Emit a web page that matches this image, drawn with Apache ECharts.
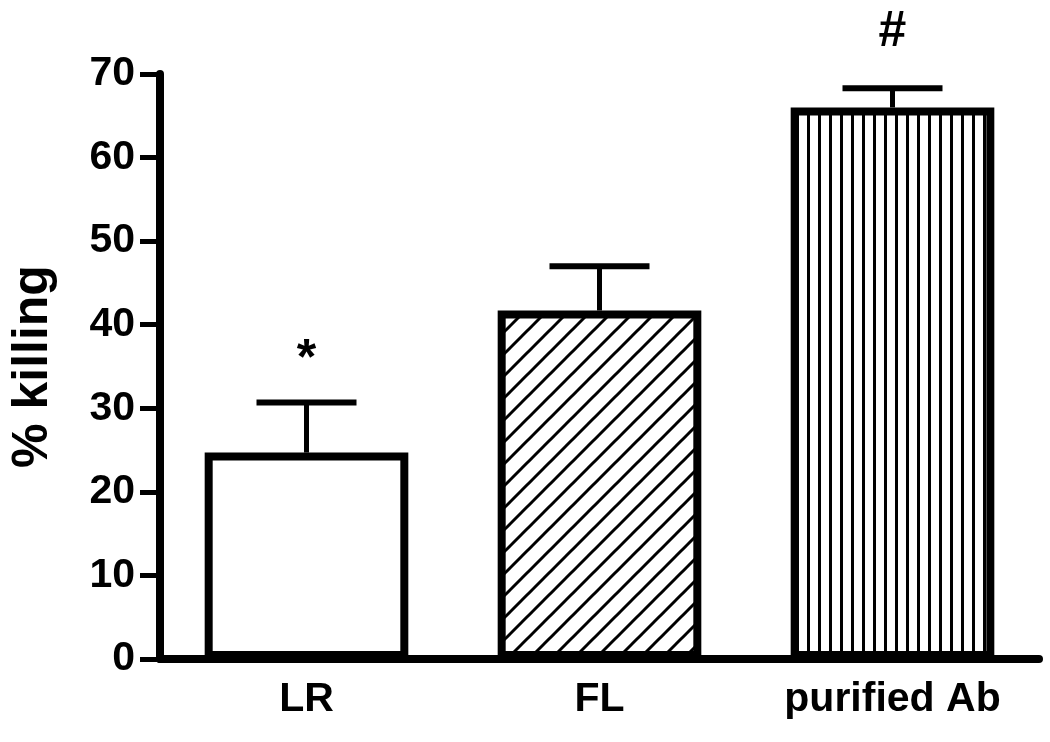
<!DOCTYPE html>
<html>
<head>
<meta charset="utf-8">
<script src="https://cdn.jsdelivr.net/npm/echarts@6/dist/echarts.min.js"></script>
<style>html,body{margin:0;padding:0;background:#fff;}#c{width:1050px;height:742px;}</style>
</head>
<body>
<div id="c"></div>
<script>
var categories = ['LR', 'FL', 'purified Ab'];
var means = [24.7, 41.7, 66.0];
var sem = [6.0, 5.3, 2.3];
var annotations = ['*', '', '#'];
var yTicks = [0, 10, 20, 30, 40, 50, 60, 70];

// glyph-specific vertical offsets (style only)
var annotationGap = { '*': 42, '#': 56 };

function makeVertical() {
  var c = document.createElement('canvas');
  c.width = 11; c.height = 4;
  var g = c.getContext('2d');
  g.fillStyle = '#fff'; g.fillRect(0, 0, 11, 4);
  g.fillStyle = '#000'; g.fillRect(4, 0, 3, 4);
  return c;
}
function makeDiagonal() {
  var s = 22;
  var c = document.createElement('canvas');
  c.width = s; c.height = s;
  var g = c.getContext('2d');
  g.fillStyle = '#fff'; g.fillRect(0, 0, s, s);
  g.strokeStyle = '#000'; g.lineWidth = 3;
  [0, s, 2 * s].forEach(function (k) {
    g.beginPath(); g.moveTo(-5, k + 5); g.lineTo(k + 5, -5); g.stroke();
  });
  return c;
}
var fills = ['#ffffff', { image: makeDiagonal(), repeat: 'repeat' }, { image: makeVertical(), repeat: 'repeat' }];

var barData = means.map(function (v, i) {
  return { value: v, itemStyle: { color: fills[i] } };
});
var errData = means.map(function (v, i) { return [i, v + sem[i], v, annotations[i]]; });

var font = 'Liberation Sans, Arial, sans-serif';
var chart = echarts.init(document.getElementById('c'), null, { renderer: 'canvas' });
chart.setOption({
  backgroundColor: '#fff',
  animation: false,
  grid: { left: 160, right: 11, top: 74, bottom: 83 },
  xAxis: {
    type: 'category',
    data: categories,
    axisLine: { lineStyle: { color: '#000', width: 8 } },
    axisTick: { alignWithLabel: true, length: 17, lineStyle: { color: '#000', width: 5 } },
    axisLabel: { color: '#000', fontFamily: font, fontWeight: 'bold', fontSize: 41, margin: 20 }
  },
  yAxis: {
    type: 'value',
    min: yTicks[0], max: yTicks[yTicks.length - 1], interval: 10,
    name: '% killing',
    nameLocation: 'middle',
    nameGap: 102,
    nameTextStyle: { color: '#000', fontFamily: font, fontWeight: 'bold', fontSize: 50 },
    axisLine: { show: true, lineStyle: { color: '#000', width: 8 } },
    axisTick: { show: true, length: 20, lineStyle: { color: '#000', width: 5 } },
    axisLabel: { color: '#000', fontFamily: font, fontWeight: 'bold', fontSize: 41, margin: 25 },
    splitLine: { show: false }
  },
  series: [
    {
      type: 'custom',
      data: errData,
      z: 1,
      renderItem: function (params, api) {
        var top = api.coord([api.value(0), api.value(1)]);
        var base = api.coord([api.value(0), api.value(2)]);
        var label = errData[params.dataIndex][3];
        var children = [
          { type: 'line', shape: { x1: top[0], y1: top[1], x2: base[0], y2: base[1] }, style: { stroke: '#000', lineWidth: 5 } },
          { type: 'line', shape: { x1: top[0] - 50, y1: top[1], x2: top[0] + 50, y2: top[1] }, style: { stroke: '#000', lineWidth: 6 } }
        ];
        if (label) {
          children.push({ type: 'text', style: { text: label, x: top[0], y: top[1] - annotationGap[label], align: 'center', verticalAlign: 'middle', font: 'bold 50px ' + font, fill: '#000' } });
        }
        return { type: 'group', children: children };
      }
    },
    {
      type: 'bar',
      data: barData,
      barWidth: '69.5%',
      z: 2,
      itemStyle: { borderColor: '#000', borderWidth: 8 }
    }
  ]
});
</script>
</body>
</html>
